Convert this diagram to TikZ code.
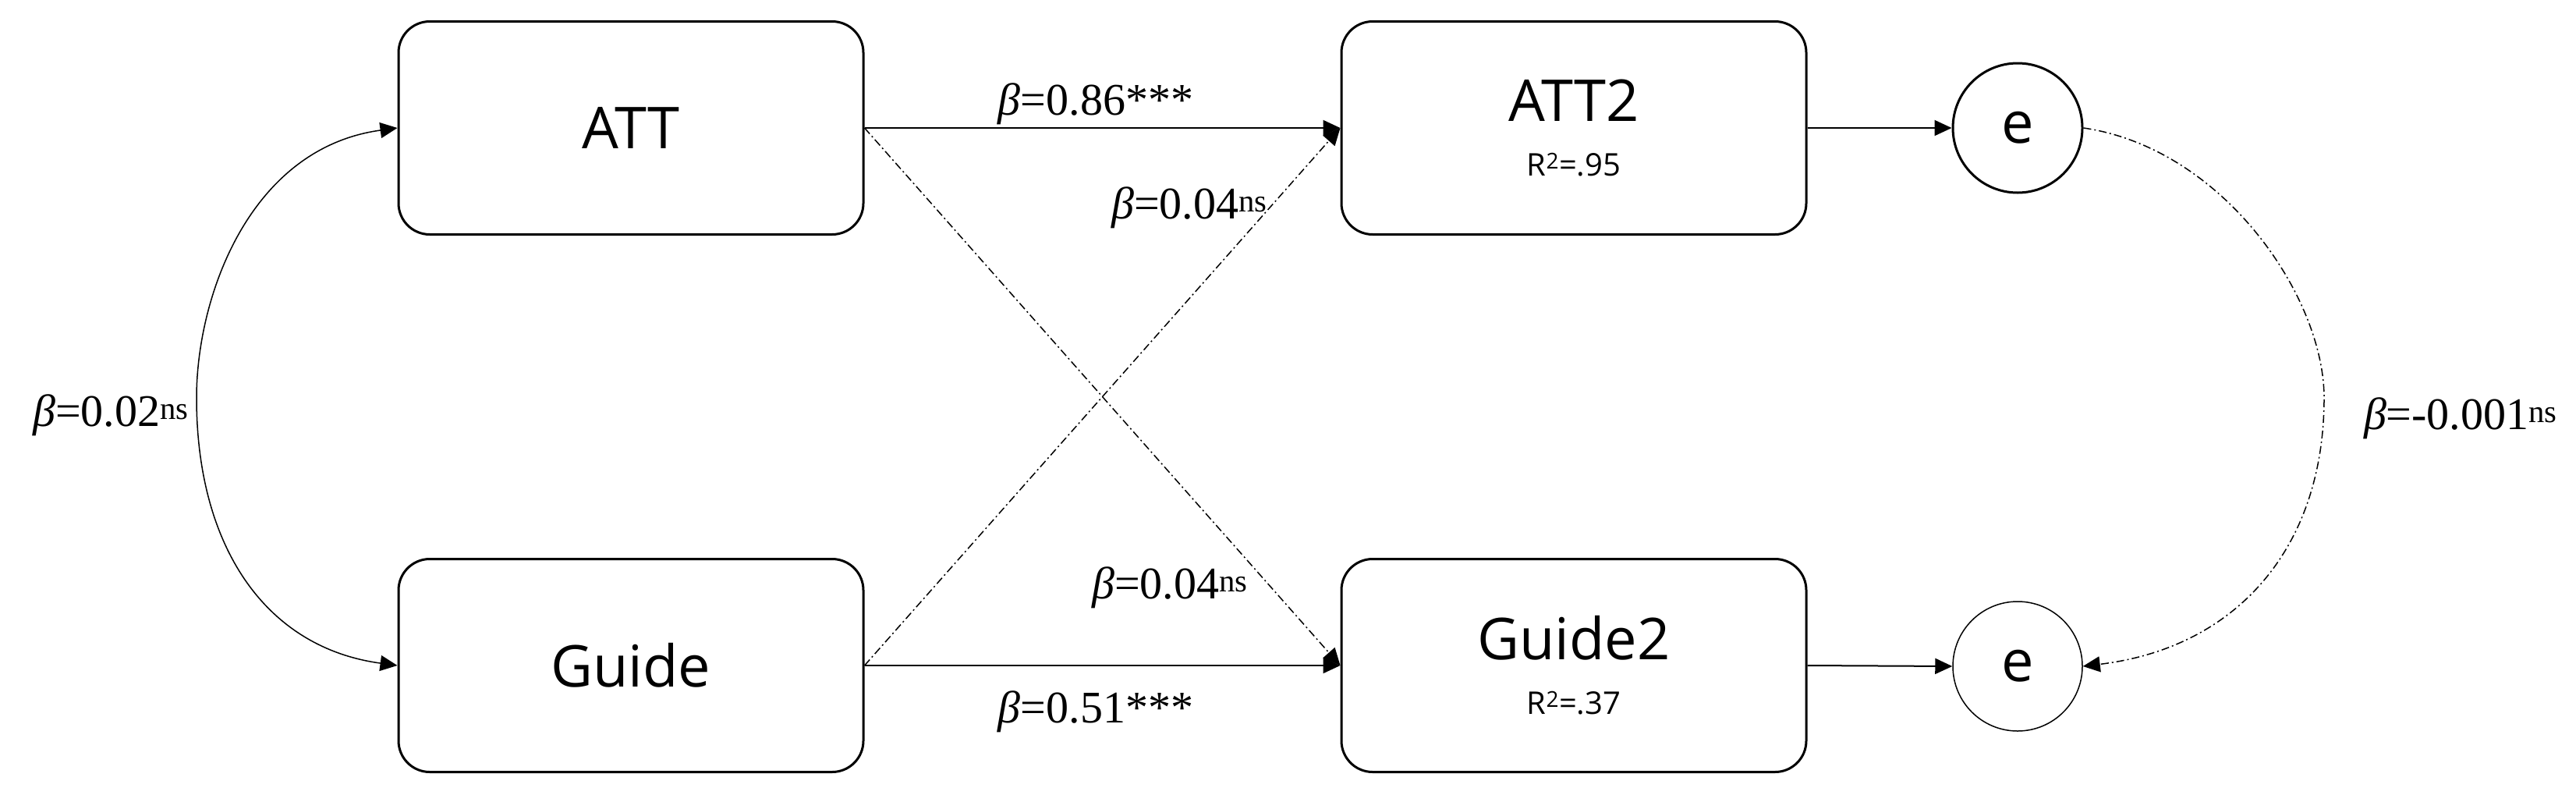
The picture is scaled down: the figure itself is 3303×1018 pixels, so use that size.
\documentclass[tikz,border=0pt]{standalone}
\usepackage{fontspec}
\setmainfont{Liberation Serif}
\newfontfamily\boxfont{Open Sans}
\usetikzlibrary{arrows.meta}
\newcommand{\bt}{\textit{β}}
\begin{document}
\begin{tikzpicture}[x=1pt,y=-1pt,
  box/.style={draw,line width=3pt,rounded corners=40pt,minimum width=596pt,minimum height=273pt,align=center,font=\boxfont\fontsize{74}{80}\selectfont},
  err/.style={draw,circle,minimum size=166pt,inner sep=0pt,font=\boxfont\fontsize{74}{80}\selectfont},
  arr/.style={line width=2pt,-{Triangle[length=22pt,width=20pt]}},
  dd/.style={line width=1.5pt,dash pattern=on 10pt off 4pt on 2pt off 4pt,-{Triangle[length=22pt,width=20pt]}},
  lab/.style={font=\fontsize{58}{62}\selectfont,inner sep=0pt}]
\useasboundingbox (0,0) rectangle (3303,1018);
\node[box] (att) at (809,164) {ATT};
\node[box] (guide) at (809,853) {Guide};
\node[box] (att2) at (2018,164) {ATT2\\[-10pt]{\fontsize{40}{44}\selectfont R\textsuperscript{2}=.95}};
\node[box] (guide2) at (2018,853) {Guide2\\[-10pt]{\fontsize{40}{44}\selectfont R\textsuperscript{2}=.37}};
\node[err,line width=3pt] (e1) at (2587,164) {e};
\node[err,line width=1.5pt] (e2) at (2587,854) {e};
\draw[arr] (att.east) -- (att2.west);
\draw[arr] (guide.east) -- (guide2.west);
\draw[arr] (att2.east) -- (e1.west);
\draw[arr] (guide2.east) -- (e2.west);
\draw[dd] (att.east) -- (guide2.west);
\draw[dd] (guide.east) -- (att2.west);
\draw[line width=1.5pt,{Triangle[length=22pt,width=20pt]}-{Triangle[length=22pt,width=20pt]}] (att.west) .. controls (320,190) and (252,380) .. (252,510) .. controls (252,700) and (340,830) .. (guide.west);
\draw[dd] (e1.east) .. controls (2850,190) and (2980,380) .. (2980,510) .. controls (2980,700) and (2870,830) .. (e2.east);
\node[lab] (l1) at (1405,133) {\bt=0.86***};
\node[lab] (l2) at (1525,266) {\bt=0.04\textsuperscript{ns}};
\node[lab] (l3) at (1500,753) {\bt=0.04\textsuperscript{ns}};
\node[lab] (l4) at (1405,912) {\bt=0.51***};
\node[lab] (l5) at (142,532) {\bt=0.02\textsuperscript{ns}};
\node[lab] (l6) at (3155,536) {\bt=-0.001\textsuperscript{ns}};
\end{tikzpicture}
\end{document}
